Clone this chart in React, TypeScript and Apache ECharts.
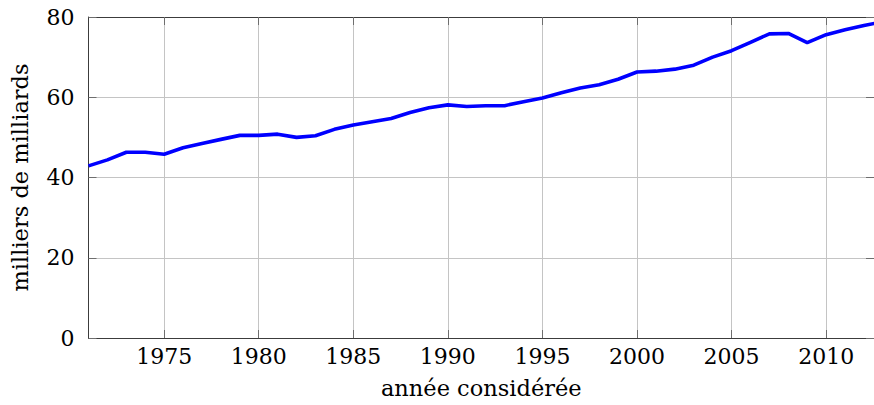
import React, { useEffect, useRef } from "react";
import * as echarts from "echarts";

const years = [
  1971, 1972, 1973, 1974, 1975, 1976, 1977, 1978, 1979, 1980, 1981, 1982, 1983,
  1984, 1985, 1986, 1987, 1988, 1989, 1990, 1991, 1992, 1993, 1994, 1995, 1996,
  1997, 1998, 1999, 2000, 2001, 2002, 2003, 2004, 2005, 2006, 2007, 2008, 2009,
  2010, 2011, 2012, 2013,
];
const values = [
  42.9, 44.4, 46.3, 46.3, 45.8, 47.4, 48.5, 49.5, 50.5, 50.5, 50.8, 50.0, 50.4,
  52.0, 53.1, 53.9, 54.7, 56.2, 57.4, 58.1, 57.7, 57.9, 57.9, 58.9, 59.8, 61.1,
  62.3, 63.1, 64.5, 66.3, 66.5, 67.0, 68.0, 70.0, 71.6, 73.7, 75.8, 75.9, 73.6,
  75.6, 76.8, 77.9, 78.8,
];
const xTicks = [1975, 1980, 1985, 1990, 1995, 2000, 2005, 2010];
const yTicks = [0, 20, 40, 60, 80];
const xName = "année considérée";
const yName = "milliers de milliards";

const FONT = "'DejaVu Serif', serif";
const FRAME = "#3c3c3c";
const GRID = "#c4c4c4";
const TICK = "#6e6e6e";

export default function App() {
  const ref = useRef<HTMLDivElement>(null);
  useEffect(() => {
    if (!ref.current) return;
    const chart = echarts.init(ref.current, undefined, { renderer: "svg" });
    const xMin = 1971;
    const xMax = 2012.53;
    chart.setOption({
      animation: false,
      backgroundColor: "#ffffff",
      textStyle: { fontFamily: FONT },
      grid: {
        left: 88.5,
        right: 0,
        top: 17,
        bottom: 67,
        containLabel: false,
        outerBoundsMode: "none",
      },
      xAxis: [
        {
          type: "value",
          min: xMin,
          max: xMax,
          position: "bottom",
          name: xName,
          nameLocation: "middle",
          nameGap: 38,
          nameTextStyle: { fontFamily: FONT, fontSize: 22.5, color: "#000" },
          axisLine: { show: true, onZero: false, lineStyle: { color: FRAME, width: 1 } },
          axisTick: {
            show: true,
            inside: true,
            length: 8,
            customValues: xTicks,
            lineStyle: { color: TICK, width: 1 },
          },
          axisLabel: {
            show: true,
            customValues: xTicks,
            margin: 7,
            fontFamily: FONT,
            fontSize: 22,
            color: "#000",
            formatter: (v: number) => String(v),
          },
          splitLine: { show: true, lineStyle: { color: GRID, width: 1 } },
        },
        {
          type: "value",
          min: xMin,
          max: xMax,
          position: "top",
          axisLine: { show: true, onZero: false, lineStyle: { color: FRAME, width: 1 } },
          axisTick: {
            show: true,
            inside: true,
            length: 8,
            customValues: xTicks,
            lineStyle: { color: TICK, width: 1 },
          },
          axisLabel: { show: false, customValues: xTicks },
          splitLine: { show: false },
        },
      ],
      yAxis: [
        {
          type: "value",
          min: yTicks[0],
          max: yTicks[yTicks.length - 1],
          interval: 20,
          position: "left",
          name: yName,
          nameLocation: "middle",
          nameGap: 57,
          nameTextStyle: { fontFamily: FONT, fontSize: 22.5, color: "#000" },
          axisLine: { show: true, onZero: false, lineStyle: { color: FRAME, width: 1 } },
          axisTick: { show: true, inside: true, length: 8, lineStyle: { color: TICK, width: 1 } },
          axisLabel: {
            show: true,
            margin: 14,
            fontFamily: FONT,
            fontSize: 22,
            color: "#000",
          },
          splitLine: { show: true, lineStyle: { color: GRID, width: 1 } },
        },
        {
          type: "value",
          min: yTicks[0],
          max: yTicks[yTicks.length - 1],
          interval: 20,
          position: "right",
          axisLine: { show: true, onZero: false, lineStyle: { color: FRAME, width: 1 } },
          axisTick: { show: true, inside: true, length: 8, lineStyle: { color: TICK, width: 1 } },
          axisLabel: { show: false },
          splitLine: { show: false },
        },
      ],
      series: [
        {
          type: "line",
          data: years.map((y, i) => [y, values[i]]),
          xAxisIndex: 0,
          yAxisIndex: 0,
          showSymbol: false,
          symbol: "none",
          clip: true,
          lineStyle: { color: "#0000ff", width: 3.6 },
          z: 5,
        },
      ],
    });
    return () => chart.dispose();
  }, []);
  return (
    <div
      ref={ref}
      style={{ position: "fixed", left: 0, top: 0, width: 874, height: 405, background: "#fff" }}
    />
  );
}
